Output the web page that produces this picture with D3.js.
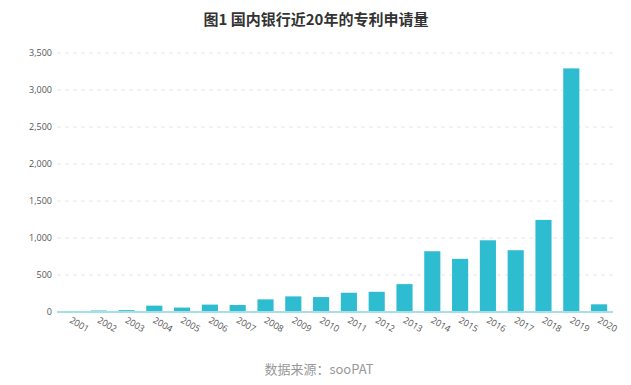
<!DOCTYPE html>
<html><head><meta charset="utf-8">
<script src="https://cdn.jsdelivr.net/npm/d3@7/dist/d3.min.js"></script>
<style>body{margin:0;background:#fff;}svg{display:block;}</style>
</head><body>
<svg id="c" width="631" height="385"></svg>
<script>
const years = ["2001","2002","2003","2004","2005","2006","2007","2008","2009","2010","2011","2012","2013","2014","2015","2016","2017","2018","2019","2020"];
const counts = [10,20,25,86,60,100,95,171,211,202,260,273,377,821,718,969,835,1245,3292,104];
const yTicks = [0,500,1000,1500,2000,2500,3000,3500];
const title = "图1 国内银行近20年的专利申请量";
const source = "数据来源：sooPAT";

(function(){
const svg = d3.select("#c");
const mL = 57, mR = 613, mT = 53, mB = 312;
const x = d3.scaleBand().domain(years).range([mL, mR]).paddingInner(0.42).paddingOuter(0.21);
const y = d3.scaleLinear().domain([0, 3500]).range([mB, mT]);
const font = "'Open Sans','Noto Sans',sans-serif";

svg.append("text").attr("x", 316).attr("y", 25).attr("text-anchor","middle")
  .attr("font-family","'Noto Sans CJK SC',sans-serif").attr("font-weight","bold")
  .attr("font-size",15).attr("fill","#333").text(title);

// grid
svg.append("g").selectAll("line").data(yTicks.filter(d=>d>0)).join("line")
  .attr("x1", mL).attr("x2", mR).attr("y1", d=>y(d)).attr("y2", d=>y(d))
  .attr("stroke","#e6e6e6").attr("stroke-dasharray","4,4");

// y axis
const ya = svg.append("g").attr("transform",`translate(${mL},0)`)
  .call(d3.axisLeft(y).tickValues(yTicks).tickFormat(d3.format(",")).tickSize(0).tickPadding(5));
ya.select(".domain").remove();
ya.selectAll("text").attr("font-family",font).attr("font-size",9).attr("fill","#555");

// bars
svg.append("g").selectAll("rect").data(years).join("rect")
  .attr("x", d=>x(d)).attr("width", x.bandwidth())
  .attr("y", (d,i)=>y(counts[i])).attr("height",(d,i)=>mB - y(counts[i]))
  .attr("fill","#2ebdd0");

// x axis
const xa = svg.append("g").attr("transform",`translate(0,${mB})`)
  .call(d3.axisBottom(x).tickSize(0).tickSizeOuter(0));
xa.select(".domain").attr("stroke","#a6dfe8").attr("stroke-width",2).attr("d",`M${mL},0H${mR}`);
xa.selectAll("text").attr("font-family",font).attr("font-size",9).attr("fill","#555")
  .attr("text-anchor","start").attr("dy",0).attr("y",0)
  .attr("transform","translate(-2,10) rotate(30)");

svg.append("text").attr("x", 319).attr("y", 374).attr("text-anchor","middle")
  .attr("font-family","'Noto Sans CJK SC',sans-serif").attr("font-size",13).attr("fill","#999").text(source);
})();
</script>
</body></html>
